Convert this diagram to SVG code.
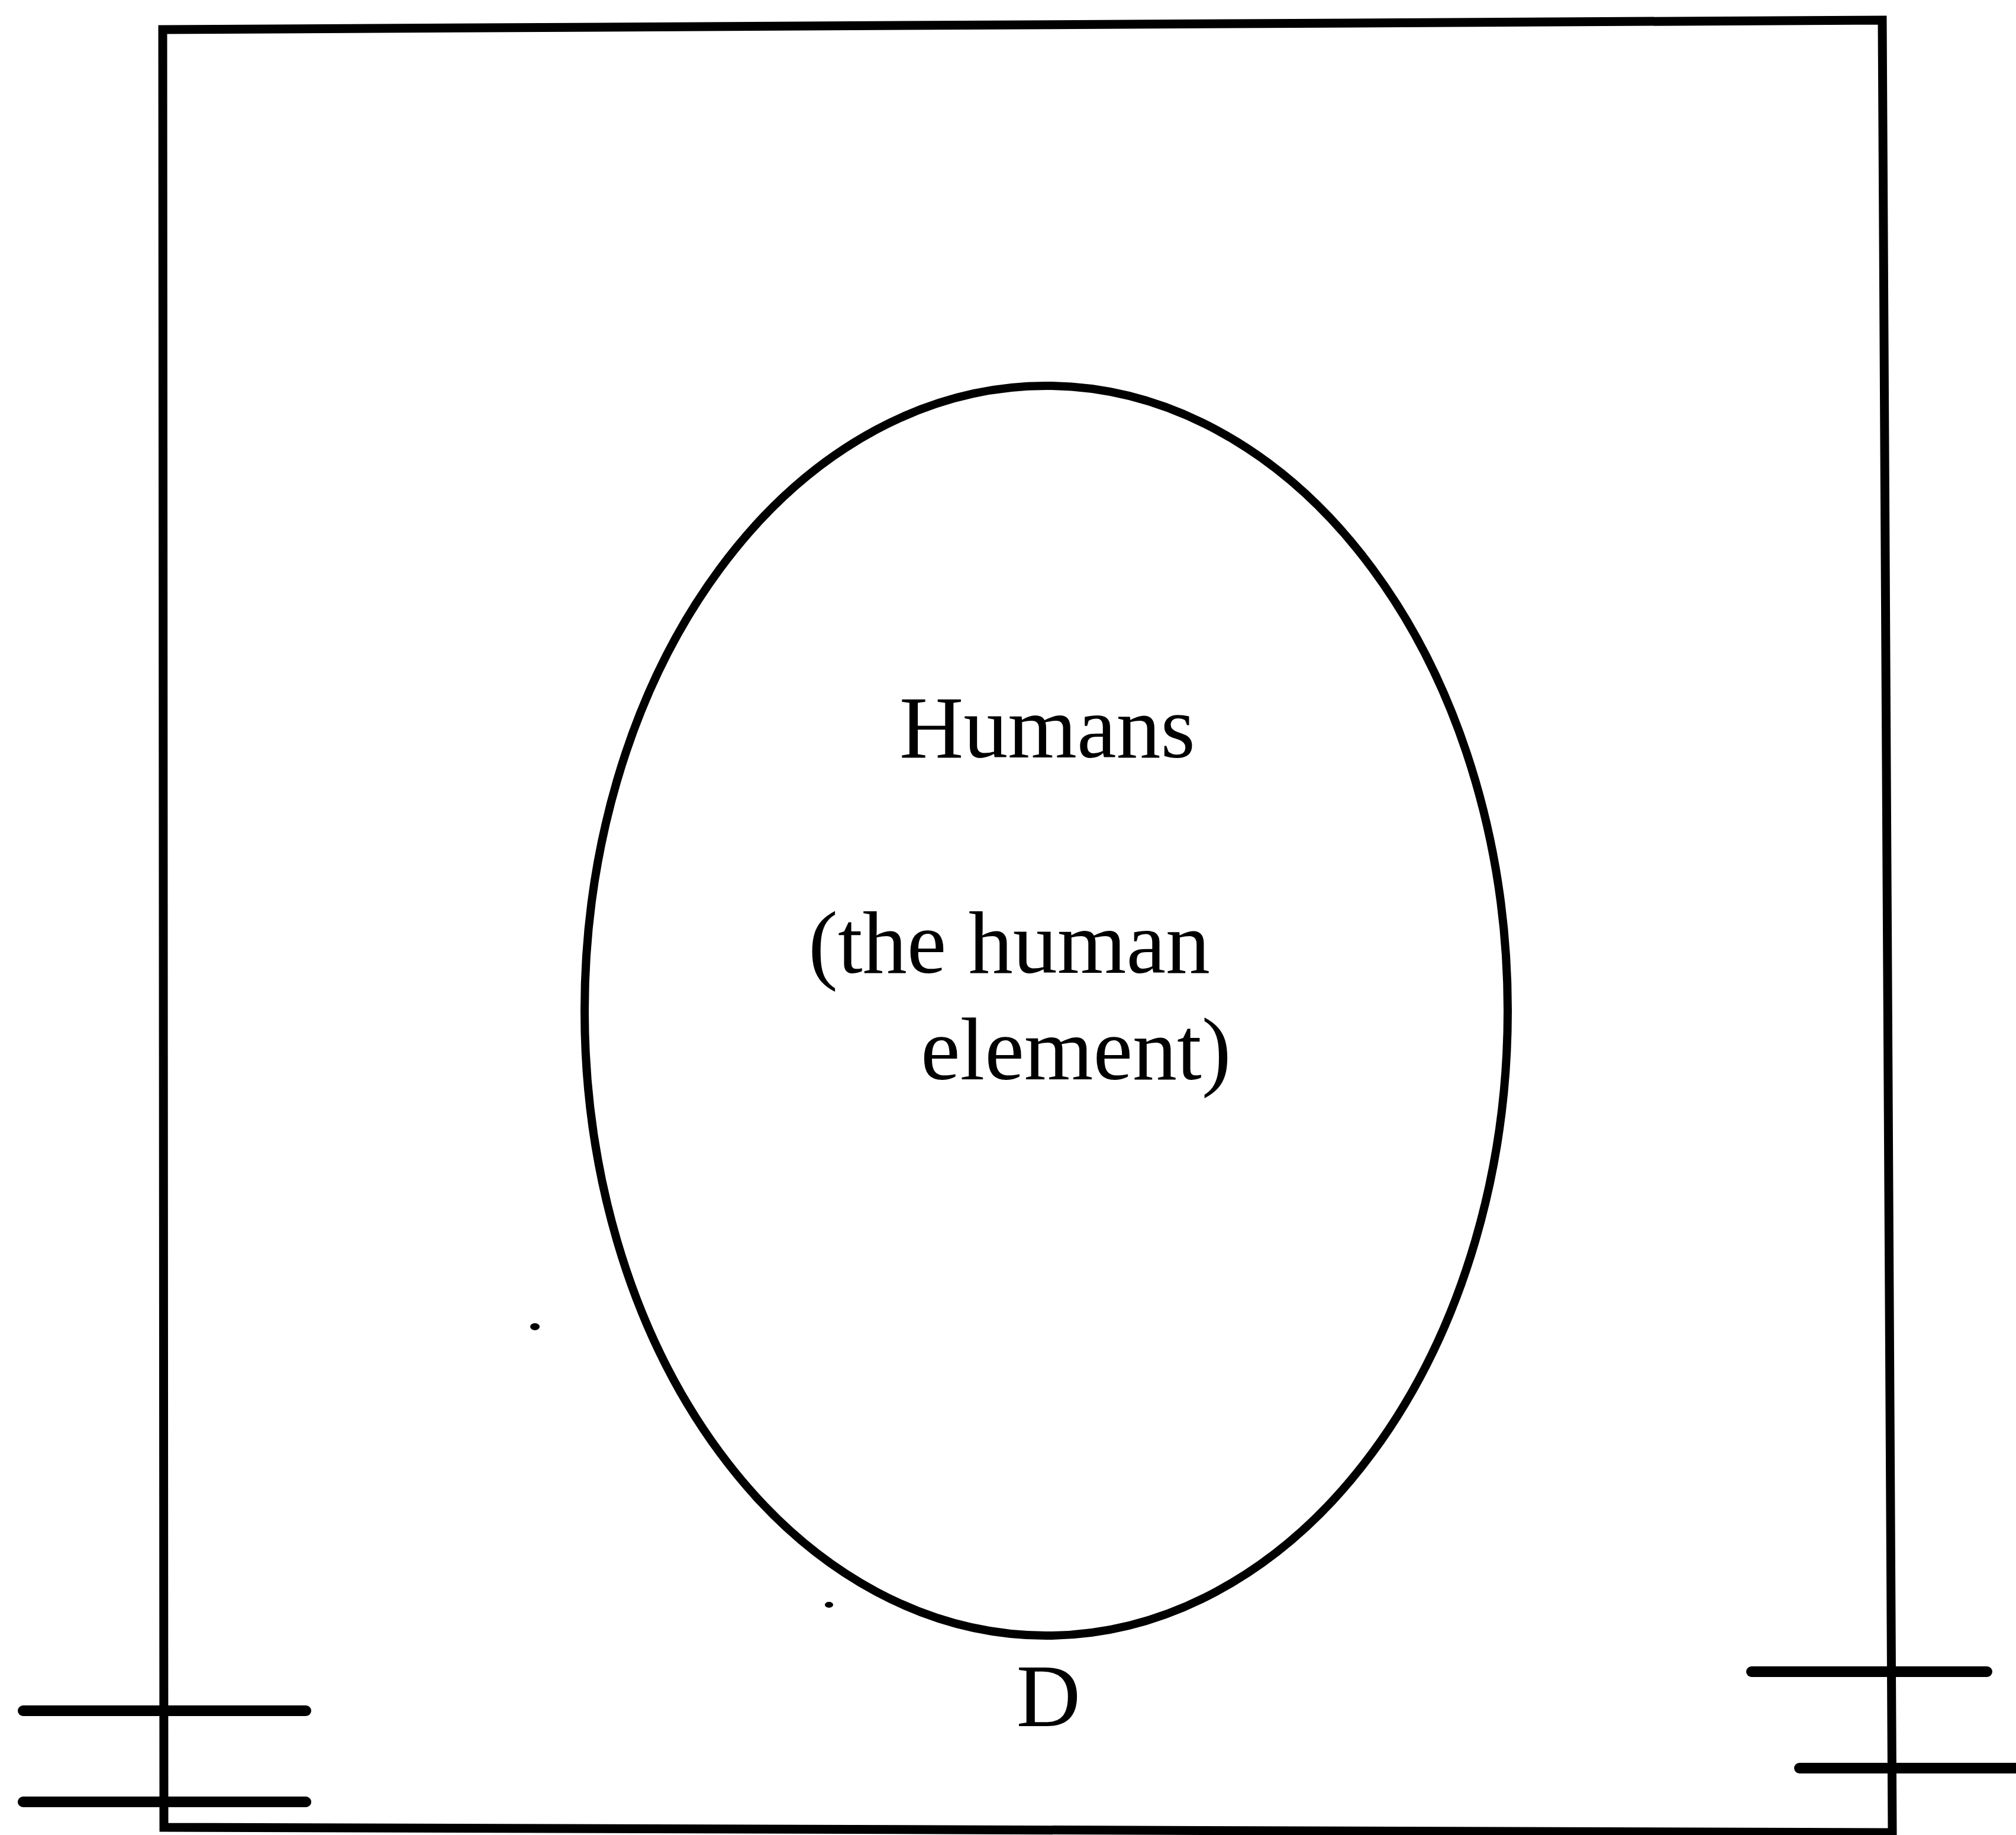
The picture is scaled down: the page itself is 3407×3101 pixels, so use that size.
<svg xmlns="http://www.w3.org/2000/svg" width="3407" height="3101" viewBox="0 0 3407 3101">
<style>
.ln{stroke:#000;fill:none;stroke-linecap:round}
.lbl{font-family:"Liberation Serif","Times New Roman",serif;font-size:150px;fill:#000}
</style>
<rect x="0" y="0" width="3407" height="3101" fill="#fff"/>
<g id="frame">
<path class="ln" style="stroke-width:15;stroke-linejoin:miter;stroke-linecap:butt" d="M275,50 L3181,34 L3198,3097 L277,3088 Z"/>
</g>
<g id="humans">
<ellipse class="ln" style="stroke-width:14" cx="1768" cy="1708" rx="780" ry="1056"/>
<text class="lbl" x="1520" y="1280">Humans</text>
<text class="lbl" x="1366" y="1644">(the human</text>
<text class="lbl" x="1556" y="1824">element)</text>
</g>
<g id="label-d">
<text class="lbl" x="1772" y="2917" text-anchor="middle">D</text>
</g>
<g id="connectors">
<line class="ln" style="stroke-width:18" x1="39" y1="2891" x2="517" y2="2891"/>
<line class="ln" style="stroke-width:18" x1="39" y1="3045" x2="517" y2="3045"/>
<line class="ln" style="stroke-width:18" x1="2960" y1="2825" x2="3358" y2="2825"/>
<line class="ln" style="stroke-width:18" x1="3041" y1="2988" x2="3410" y2="2988"/>
</g>
<g id="marks">
<ellipse cx="904" cy="2242" rx="8" ry="6" fill="#000"/>
<ellipse cx="1401" cy="2712" rx="7" ry="5" fill="#000"/>
</g>
</svg>
